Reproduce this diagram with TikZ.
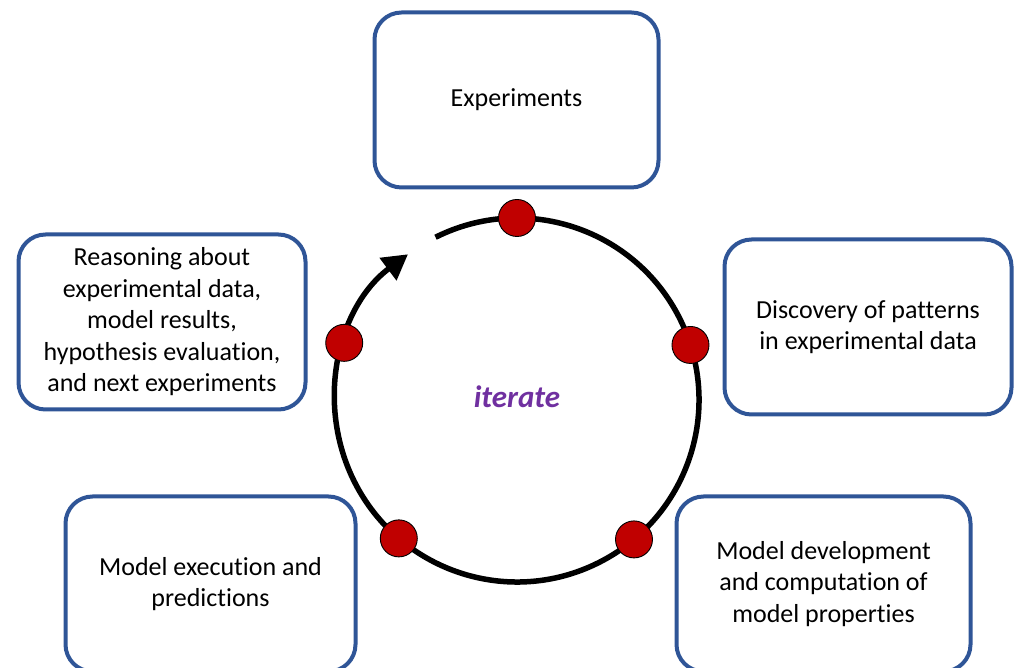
\documentclass[tikz,border=0pt]{standalone}
\usepackage{fontspec}
\setmainfont{Carlito}[Ligatures=NoCommon]
\usetikzlibrary{arrows.meta,calc}
\definecolor{boxblue}{RGB}{47,85,151}
\definecolor{dotred}{RGB}{192,0,0}
\definecolor{itpurple}{RGB}{112,48,160}
\tikzset{
  stagebox/.style={draw=boxblue, line width=4pt, rounded corners=27pt, fill=white,
    align=center, inner sep=0pt, font=\fontsize{26}{31.5}\selectfont},
  stagedot/.style={circle, fill=dotred, draw=black, line width=0.9pt, minimum size=37pt, inner sep=0pt},
}
\begin{document}
\begin{tikzpicture}[x=1pt,y=1pt]
\useasboundingbox (0,0) rectangle (1019,668);
\clip (0,0) rectangle (1019,668);
% boxes
\node[stagebox, minimum width=284pt, minimum height=175pt] (exp) at (516.5,568) {Experiments};
\node[stagebox, minimum width=287pt, minimum height=175pt] (disc) at (868,341) {Discovery of patterns\\in experimental data};
\node[stagebox, minimum width=287pt, minimum height=175pt] (reas) at (162,346) {Reasoning about\\experimental data,\\model results,\\hypothesis evaluation,\\and next experiments};
\node[stagebox, minimum width=290pt, minimum height=175pt] (mexec) at (210.5,84) {Model execution and\\predictions};
\node[stagebox, minimum width=294pt, minimum height=175pt] (mdev) at (823.5,84) {Model development\\and computation of\\model properties};
% cycle
\coordinate (c) at (517,268);
\draw[line width=5.5pt, -{Triangle[length=25pt,width=27pt]}]
  ($(c)+(116.6:182)$) arc[start angle=116.6, end angle=-233.2, radius=182];
% dots
\node[stagedot] (d1) at ($(c)+(90:182)$) {};
\node[stagedot] (d2) at ($(c)+(17.6:182)$) {};
\node[stagedot] (d3) at ($(c)+(-50:182)$) {};
\node[stagedot] (d4) at ($(c)+(229.5:182)$) {};
\node[stagedot] (d5) at ($(c)+(161.7:182)$) {};
% label
\node[text=itpurple, font=\fontsize{31}{37}\selectfont\bfseries\itshape] (it) at (517,271) {iterate};
\end{tikzpicture}
\end{document}
